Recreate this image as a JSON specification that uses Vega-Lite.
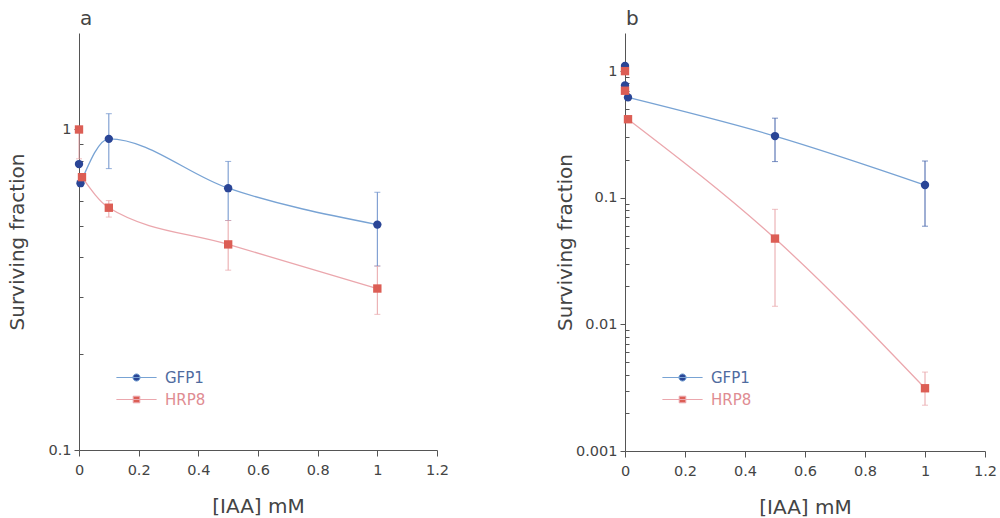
{
  "$schema": "https://vega.github.io/schema/vega-lite/v6.json",
  "autosize": {"type": "pad"},
  "padding": {"left": 7, "top": 9, "right": 5, "bottom": 5},
  "background": "white",
  "spacing": 188,
  "bounds": "flush",
  "config": {
    "view": {"stroke": null},
    "font": "DejaVu Sans",
    "axis": {"grid": false, "domainColor": "#555", "tickColor": "#555", "labelColor": "#444", "titleColor": "#444", "labelFontSize": 14.5, "titleFontSize": 20, "titleFontWeight": "normal", "labelFlush": false, "labelOverlap": false},
    "title": {"fontSize": 20, "fontWeight": "normal", "color": "#444", "anchor": "start", "frame": "group"}
  },
  "resolve": {"scale": {"x": "independent", "y": "independent", "stroke": "independent"}, "legend": {"stroke": "independent"}},
  "hconcat": [
    {
      "width": 358, "height": 417,
      "title": {"text": "a", "dx": 1, "offset": 4},
      "data": {"values": [
        {"series": "GFP1", "x": 0, "y": 0.78},
        {"series": "GFP1", "x": 0.005, "y": 0.68},
        {"series": "GFP1", "x": 0.1, "y": 0.935, "lo": 0.755, "hi": 1.12},
        {"series": "GFP1", "x": 0.5, "y": 0.656, "lo": 0.52, "hi": 0.795},
        {"series": "GFP1", "x": 1, "y": 0.505, "lo": 0.375, "hi": 0.637},
        {"series": "HRP8", "x": 0, "y": 1.0, "lo": 0.81, "hi": 1.0},
        {"series": "HRP8", "x": 0.01, "y": 0.71},
        {"series": "HRP8", "x": 0.1, "y": 0.57, "lo": 0.533, "hi": 0.6},
        {"series": "HRP8", "x": 0.5, "y": 0.438, "lo": 0.364, "hi": 0.52},
        {"series": "HRP8", "x": 1, "y": 0.319, "lo": 0.265, "hi": 0.375}
      ]},
      "layer": [
        {
          "transform": [{"filter": "datum.x > 0"}],
          "mark": {"type": "line", "interpolate": "monotone", "strokeWidth": 1.3},
          "encoding": {
            "x": {"field": "x", "type": "quantitative", "scale": {"domain": [0, 1.2], "nice": false, "zero": false},
              "axis": {"title": "[IAA] mM", "values": [0, 0.1, 0.2, 0.3, 0.4, 0.5, 0.6, 0.7, 0.8, 0.9, 1, 1.1, 1.2],
                "labelExpr": "round(datum.value*10) % 2 == 0 ? '' + datum.value : ''",
                "tickSize": {"condition": {"test": "round(datum.value*10) % 2 == 1", "value": 3}, "value": 6},
                "labelPadding": 7, "titlePadding": 20}},
            "y": {"field": "y", "type": "quantitative", "title": "Surviving fraction", "scale": {"type": "log", "domain": [0.1, 2], "nice": false},
              "axis": {"values": [0.1, 0.2, 0.3, 0.4, 0.5, 0.6, 0.7, 0.8, 0.9, 1],
                "labelExpr": "abs(log(datum.value)/LN10 - round(log(datum.value)/LN10)) < 0.001 ? '' + datum.value : ''",
                "tickSize": {"condition": {"test": "abs(log(datum.value)/LN10 - round(log(datum.value)/LN10)) > 0.001", "value": -4}, "value": 5},
                "labelPadding": 3, "titleX": -52}},
            "stroke": {"field": "series", "type": "nominal", "scale": {"domain": ["GFP1", "HRP8"], "range": ["#78a3d4", "#eba7ad"]},
              "legend": {"orient": "none", "legendX": 50, "legendY": 337, "title": null, "symbolSize": 36, "symbolStrokeWidth": 1,
                "symbolType": "M-6.7,0H6.7M1.2,0A1.2,1.2 0 1,1 -1.2,0A1.2,1.2 0 1,1 1.2,0Z",
                "labelFontSize": 15, "labelOffset": 21, "rowPadding": 6, "padding": 0,
                "encode": {
                  "symbols": {
                    "enter": {
                      "shape": {"signal": "datum.value === 'GFP1' ? 'M-6.7,0H6.7M1.2,0A1.2,1.2 0 1,1 -1.2,0A1.2,1.2 0 1,1 1.2,0Z' : 'M-6.7,0H6.7M-1.1,-1.1H1.1V1.1H-1.1Z'"},
                      "fill": {"signal": "datum.value === 'GFP1' ? '#2a4596' : '#dc5e55'"},
                      "fillOpacity": {"value": 1}, "strokeWidth": {"value": 1}},
                    "update": {
                      "shape": {"signal": "datum.value === 'GFP1' ? 'M-6.7,0H6.7M1.2,0A1.2,1.2 0 1,1 -1.2,0A1.2,1.2 0 1,1 1.2,0Z' : 'M-6.7,0H6.7M-1.1,-1.1H1.1V1.1H-1.1Z'"},
                      "fill": {"signal": "datum.value === 'GFP1' ? '#2a4596' : '#dc5e55'"},
                      "fillOpacity": {"value": 1}, "strokeWidth": {"value": 1}}},
                  "labels": {"update": {"fill": {"signal": "datum.value === 'GFP1' ? '#4f6b9f' : '#e08c92'"}}}
                }}}
          }
        },
        {
          "transform": [{"filter": "isValid(datum.lo)"}],
          "mark": {"type": "errorbar", "ticks": {"size": 6}, "thickness": 1},
          "encoding": {
            "x": {"field": "x", "type": "quantitative", "title": "[IAA] mM"},
            "y": {"field": "lo", "type": "quantitative", "title": "Surviving fraction"},
            "y2": {"field": "hi"},
            "color": {"condition": {"test": "datum.series === 'GFP1'", "value": "#6a8fca"}, "value": "#e8a4a8"}
          }
        },
        {
          "mark": {"type": "point", "filled": true, "size": 70, "opacity": 1},
          "encoding": {
            "x": {"field": "x", "type": "quantitative", "title": "[IAA] mM"},
            "y": {"field": "y", "type": "quantitative", "title": "Surviving fraction"},
            "shape": {"condition": {"test": "datum.series === 'GFP1'", "value": "circle"}, "value": "square"},
            "fill": {"condition": {"test": "datum.series === 'GFP1'", "value": "#2a4596"}, "value": "#dc5e55"}
          }
        }
      ]
    },
    {
      "width": 360, "height": 418,
      "title": {"text": "b", "dx": 1, "offset": 4},
      "data": {"values": [
        {"series": "GFP1", "x": 0, "y": 1.1},
        {"series": "GFP1", "x": 0, "y": 0.77},
        {"series": "GFP1", "x": 0.01, "y": 0.62},
        {"series": "GFP1", "x": 0.5, "y": 0.307, "lo": 0.193, "hi": 0.425},
        {"series": "GFP1", "x": 1, "y": 0.126, "lo": 0.0596, "hi": 0.195},
        {"series": "HRP8", "x": 0, "y": 1.0},
        {"series": "HRP8", "x": 0, "y": 0.7},
        {"series": "HRP8", "x": 0.01, "y": 0.417},
        {"series": "HRP8", "x": 0.5, "y": 0.0476, "lo": 0.0139, "hi": 0.081},
        {"series": "HRP8", "x": 1, "y": 0.00313, "lo": 0.0023, "hi": 0.0042}
      ]},
      "layer": [
        {
          "transform": [{"filter": "datum.x > 0"}],
          "mark": {"type": "line", "interpolate": "monotone", "strokeWidth": 1.3},
          "encoding": {
            "x": {"field": "x", "type": "quantitative", "scale": {"domain": [0, 1.2], "nice": false, "zero": false},
              "axis": {"title": "[IAA] mM", "values": [0, 0.1, 0.2, 0.3, 0.4, 0.5, 0.6, 0.7, 0.8, 0.9, 1, 1.1, 1.2],
                "labelExpr": "round(datum.value*10) % 2 == 0 ? '' + datum.value : ''",
                "tickSize": {"condition": {"test": "round(datum.value*10) % 2 == 1", "value": 3}, "value": 6},
                "labelPadding": 7, "titlePadding": 20}},
            "y": {"field": "y", "type": "quantitative", "title": "Surviving fraction", "scale": {"type": "log", "domain": [0.001, 2], "nice": false},
              "axis": {"values": [0.001, 0.002, 0.003, 0.004, 0.005, 0.006, 0.007, 0.008, 0.009, 0.01, 0.02, 0.03, 0.04, 0.05, 0.06, 0.07, 0.08, 0.09, 0.1, 0.2, 0.3, 0.4, 0.5, 0.6, 0.7, 0.8, 0.9, 1],
                "labelExpr": "abs(log(datum.value)/LN10 - round(log(datum.value)/LN10)) < 0.001 ? '' + datum.value : ''",
                "tickSize": {"condition": {"test": "abs(log(datum.value)/LN10 - round(log(datum.value)/LN10)) > 0.001", "value": -4}, "value": 5},
                "labelPadding": 3, "titleX": -50}},
            "stroke": {"field": "series", "type": "nominal", "scale": {"domain": ["GFP1", "HRP8"], "range": ["#78a3d4", "#eba7ad"]},
              "legend": {"orient": "none", "legendX": 50, "legendY": 337, "title": null, "symbolSize": 36, "symbolStrokeWidth": 1,
                "symbolType": "M-6.7,0H6.7M1.2,0A1.2,1.2 0 1,1 -1.2,0A1.2,1.2 0 1,1 1.2,0Z",
                "labelFontSize": 15, "labelOffset": 21, "rowPadding": 6, "padding": 0,
                "encode": {
                  "symbols": {
                    "enter": {
                      "shape": {"signal": "datum.value === 'GFP1' ? 'M-6.7,0H6.7M1.2,0A1.2,1.2 0 1,1 -1.2,0A1.2,1.2 0 1,1 1.2,0Z' : 'M-6.7,0H6.7M-1.1,-1.1H1.1V1.1H-1.1Z'"},
                      "fill": {"signal": "datum.value === 'GFP1' ? '#2a4596' : '#dc5e55'"},
                      "fillOpacity": {"value": 1}, "strokeWidth": {"value": 1}},
                    "update": {
                      "shape": {"signal": "datum.value === 'GFP1' ? 'M-6.7,0H6.7M1.2,0A1.2,1.2 0 1,1 -1.2,0A1.2,1.2 0 1,1 1.2,0Z' : 'M-6.7,0H6.7M-1.1,-1.1H1.1V1.1H-1.1Z'"},
                      "fill": {"signal": "datum.value === 'GFP1' ? '#2a4596' : '#dc5e55'"},
                      "fillOpacity": {"value": 1}, "strokeWidth": {"value": 1}}},
                  "labels": {"update": {"fill": {"signal": "datum.value === 'GFP1' ? '#4f6b9f' : '#e08c92'"}}}
                }}}
          }
        },
        {
          "transform": [{"filter": "isValid(datum.lo)"}],
          "mark": {"type": "errorbar", "ticks": {"size": 6}, "thickness": 1},
          "encoding": {
            "x": {"field": "x", "type": "quantitative", "title": "[IAA] mM"},
            "y": {"field": "lo", "type": "quantitative", "title": "Surviving fraction"},
            "y2": {"field": "hi"},
            "color": {"condition": {"test": "datum.series === 'GFP1'", "value": "#3f5fa8"}, "value": "#e8a4a8"}
          }
        },
        {
          "mark": {"type": "point", "filled": true, "size": 70, "opacity": 1},
          "encoding": {
            "x": {"field": "x", "type": "quantitative", "title": "[IAA] mM"},
            "y": {"field": "y", "type": "quantitative", "title": "Surviving fraction"},
            "shape": {"condition": {"test": "datum.series === 'GFP1'", "value": "circle"}, "value": "square"},
            "fill": {"condition": {"test": "datum.series === 'GFP1'", "value": "#2a4596"}, "value": "#dc5e55"}
          }
        }
      ]
    }
  ]
}
